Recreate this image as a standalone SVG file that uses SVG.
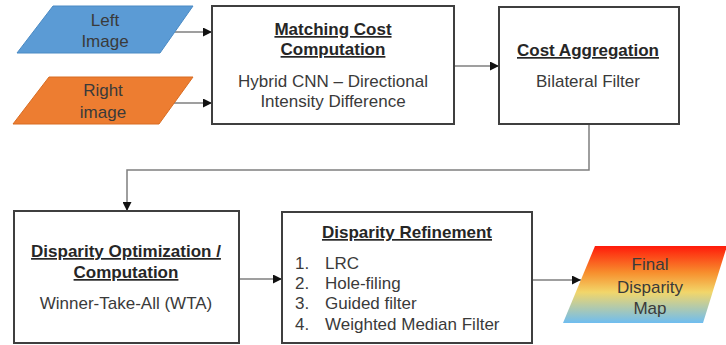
<svg xmlns="http://www.w3.org/2000/svg" width="726" height="345" viewBox="0 0 726 345">
<style>
.box{fill:#fff;stroke:#3f3f3f;stroke-width:2}
.t{font-family:"Liberation Sans",Arial,sans-serif;font-size:17px;fill:#3a3a3a;text-anchor:middle}
.h{font-weight:bold;text-decoration:underline;fill:#262626}
.l{text-anchor:start}
.c{fill:none;stroke:#7f7f7f;stroke-width:1.5}
</style>
<defs>
<marker id="a" viewBox="0 0 10 10" refX="10" refY="5" markerWidth="9" markerHeight="9" markerUnits="userSpaceOnUse" orient="auto">
<path d="M0,0 L10,5 L0,10 Z" fill="#111"/>
</marker>
<linearGradient id="g" x1="0" y1="0" x2="0" y2="1">
<stop offset="0" stop-color="#ff1a0a"/>
<stop offset="0.35" stop-color="#f7902e"/>
<stop offset="0.6" stop-color="#f2d66a"/>
<stop offset="1" stop-color="#6fbdf0"/>
</linearGradient>
</defs>
<g id="connectors">
<path class="c" d="M175,32 H212" marker-end="url(#a)"/>
<path class="c" d="M172,103 H212" marker-end="url(#a)"/>
<path class="c" d="M454,66 H499" marker-end="url(#a)"/>
<path class="c" d="M589,124 V170 H127 V211" marker-end="url(#a)"/>
<path class="c" d="M239,279 H282" marker-end="url(#a)"/>
<path class="c" d="M532,280 H581" marker-end="url(#a)"/>
</g>
<g id="left-image">
<polygon points="53,6 193,6 160,53 17,53" fill="#5b9bd5" stroke="#4a8ac4" stroke-width="1"/>
<text class="t" x="105" y="26">Left</text>
<text class="t" x="105" y="47">Image</text>
</g>
<g id="right-image">
<polygon points="49,77 193,77 159,124 13,124" fill="#ed7d31" stroke="#d86c22" stroke-width="1"/>
<text class="t" x="103" y="96">Right</text>
<text class="t" x="103" y="118">image</text>
</g>
<g id="matching-cost">
<rect class="box" x="212" y="6" width="242" height="118"/>
<text class="t h" x="333" y="35">Matching Cost</text>
<text class="t h" x="333" y="55">Computation</text>
<text class="t" x="333" y="87">Hybrid CNN – Directional</text>
<text class="t" x="333" y="107">Intensity Difference</text>
</g>
<g id="cost-aggregation">
<rect class="box" x="499" y="7" width="180" height="117"/>
<text class="t h" x="588" y="56">Cost Aggregation</text>
<text class="t" x="588" y="87">Bilateral Filter</text>
</g>
<g id="disparity-optimization">
<rect class="box" x="14" y="211" width="225" height="132"/>
<text class="t h" x="126" y="257">Disparity Optimization /</text>
<text class="t h" x="126" y="278">Computation</text>
<text class="t" x="126" y="309">Winner-Take-All (WTA)</text>
</g>
<g id="disparity-refinement">
<rect class="box" x="282" y="212" width="250" height="131"/>
<text class="t h" x="407" y="238">Disparity Refinement</text>
<text class="t l" x="295" y="269">1.</text><text class="t l" x="325" y="269">LRC</text>
<text class="t l" x="295" y="289">2.</text><text class="t l" x="325" y="289">Hole-filing</text>
<text class="t l" x="295" y="309">3.</text><text class="t l" x="325" y="309">Guided filter</text>
<text class="t l" x="295" y="330">4.</text><text class="t l" x="325" y="330">Weighted Median Filter</text>
</g>
<g id="final-disparity-map">
<polygon points="595,246 727,246 703,323 563,323" fill="url(#g)"/>
<text class="t" x="650" y="270">Final</text>
<text class="t" x="650" y="293">Disparity</text>
<text class="t" x="650" y="314">Map</text>
</g>
</svg>
